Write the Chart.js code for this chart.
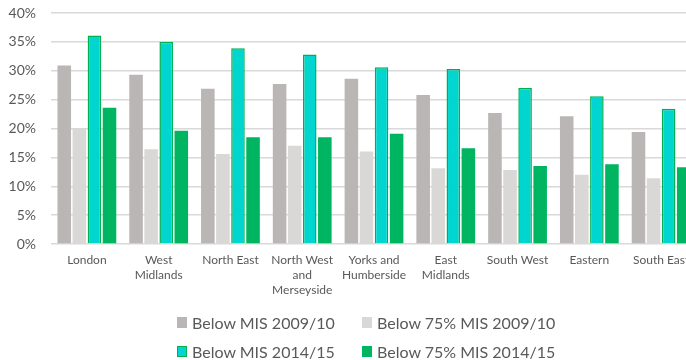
<!DOCTYPE html>
<html>
<head>
<meta charset="utf-8">
<script src="https://cdn.jsdelivr.net/npm/chart.js@4"></script>
<style>
  html, body { margin: 0; padding: 0; background: #fff; overflow: hidden; }
  #wrap { position: relative; width: 700px; height: 360px; }
  #legend {
    position: absolute; left: 177px; top: 311px;
    display: grid; grid-template-columns: 185px auto; row-gap: 7px;
    font-family: Lato, sans-serif; font-size: 16px; color: #595959;
  }
  #legend .item { display: flex; align-items: center; height: 22px; white-space: nowrap; }
  #legend .box { width: 10px; height: 11px; margin-right: 5px; box-sizing: border-box; }
</style>
</head>
<body>
<div id="wrap">
  <canvas id="chart"></canvas>
  <div id="legend"></div>
</div>
<script>
// Data (percent)
const regions = [
    "London", ["West", "Midlands"], "North East", ["North West", "and", "Merseyside"],
    ["Yorks and", "Humberside"], ["East", "Midlands"], "South West", "Eastern", "South East"
];
const seriesNames = ["Below MIS 2009/10", "Below 75% MIS 2009/10", "Below MIS 2014/15", "Below 75% MIS 2014/15"];
const belowMis0910 = [30.9, 29.3, 26.9, 27.7, 28.6, 25.8, 22.7, 22.1, 19.4];
const below75Mis0910 = [20.0, 16.4, 15.6, 17.0, 16.0, 13.1, 12.8, 12.0, 11.4];
const belowMis1415 = [36.1, 35.0, 33.9, 32.8, 30.6, 30.3, 27.0, 25.6, 23.4];
const below75Mis1415 = [23.6, 19.6, 18.5, 18.5, 19.1, 16.6, 13.5, 13.8, 13.3];
const yTicks = [0, 5, 10, 15, 20, 25, 30, 35, 40];

const fills = ["#bab6b5", "#d9d8d7", "#00d5cf", "#00b561"];
const borders = ["#bab6b5", "#d9d8d7", "#00b050", "#00b561"];
const borderWidths = [0, 0, 1.5, 0];
const values = [belowMis0910, below75Mis0910, belowMis1415, below75Mis1415];

const datasets = seriesNames.map((name, i) => ({
    label: name,
    data: values[i],
    backgroundColor: fills[i],
    borderColor: borders[i],
    borderWidth: borderWidths[i],
    barPercentage: 0.9,
    categoryPercentage: 0.84,
}));

// Legenda dua kolom seperti gambar
const legendEl = document.getElementById('legend');
seriesNames.forEach((name, i) => {
    const item = document.createElement('div');
    item.className = 'item';
    const box = document.createElement('span');
    box.className = 'box';
    box.style.background = fills[i];
    if (borderWidths[i]) box.style.border = '1.5px solid ' + borders[i];
    const txt = document.createElement('span');
    txt.textContent = name;
    item.appendChild(box);
    item.appendChild(txt);
    legendEl.appendChild(item);
});

const ctx = document.getElementById('chart').getContext('2d');
new Chart(ctx, {
    type: 'bar',
    data: { labels: regions, datasets: datasets },
    options: {
        responsive: true,
        maintainAspectRatio: false,
        animation: false,
        layout: { padding: { left: 0, right: 3, top: 13, bottom: 0 } },
        plugins: { legend: { display: false }, tooltip: { enabled: false } },
        scales: {
            x: {
                afterFit: (axis) => { axis.height = 116; axis.paddingLeft = 0; axis.paddingRight = 0; },
                grid: { display: false, drawTicks: false },
                border: { display: false },
                ticks: {
                    color: '#595959',
                    font: { family: 'Lato', size: 12, lineHeight: 1.25 },
                    padding: 9,
                    maxRotation: 0,
                    autoSkip: false,
                },
            },
            y: {
                min: 0,
                max: 40,
                afterFit: (axis) => { axis.width = 51; axis.paddingTop = 0; axis.paddingBottom = 0; },
                afterBuildTicks: (axis) => { axis.ticks = yTicks.map(v => ({ value: v })); },
                grid: { color: '#d9d9d9', lineWidth: 1.5, drawTicks: false },
                border: { display: false },
                ticks: {
                    color: '#595959',
                    font: { family: 'Lato', size: 14 },
                    padding: 15,
                    callback: (v) => v + '%',
                },
            },
        },
    },
});
</script>
</body>
</html>
